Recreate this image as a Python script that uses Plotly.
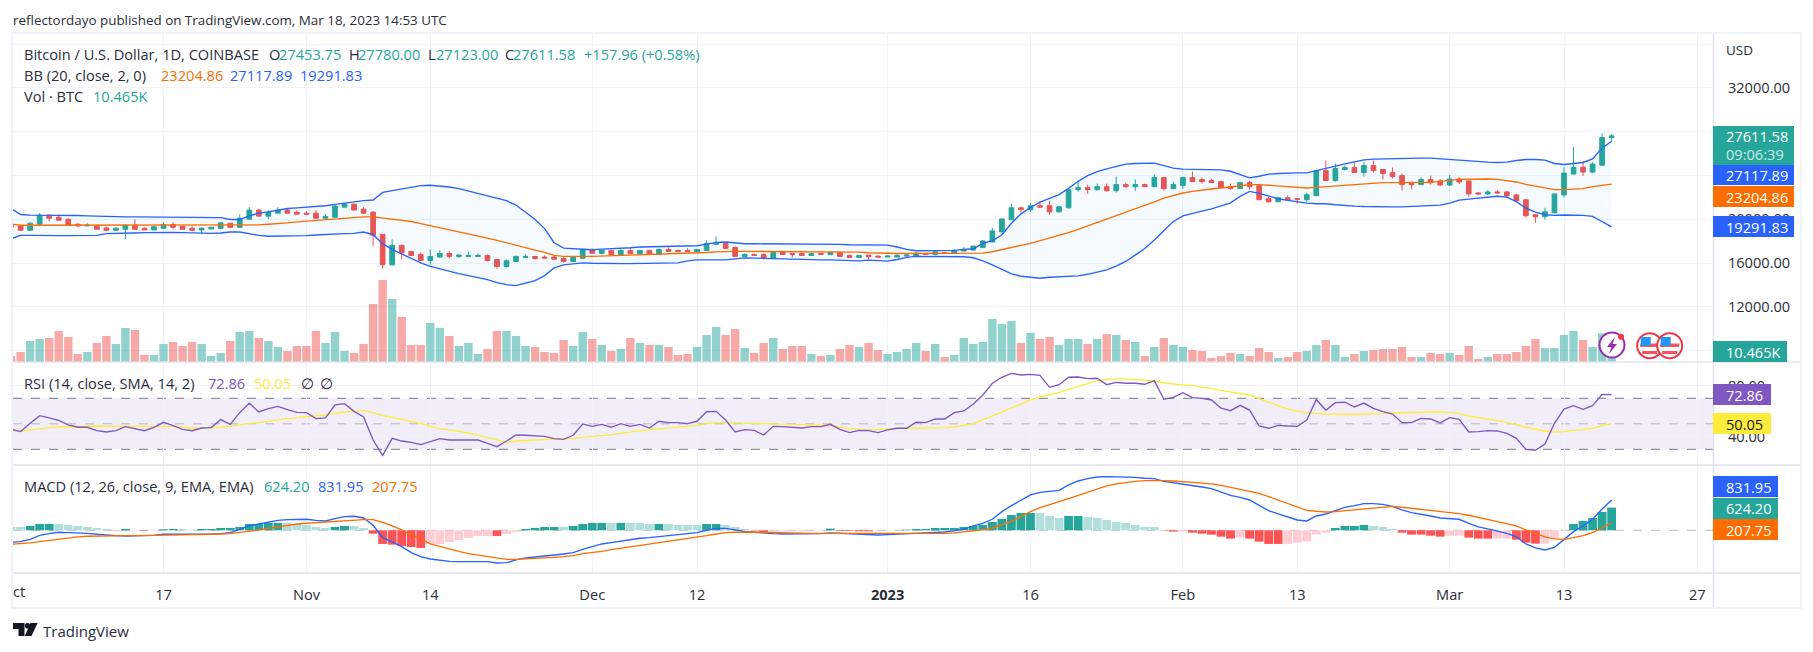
import pandas as pd
import plotly.graph_objects as go

W, H = 1813, 652

FIRST_DAY, LAST_DAY = "2022-10-01", "2023-03-18"

OPEN = [
 19430,19390,18990,19540,20370,20180,20000,19540,19390,19420,19200,18990,19080,19450,19170,19020,19170,19510,19350,19170,19020,19110,19170,19630,19260,20000,20830,20280,20550,20830,20640,
 20550,20550,20090,20180,21100,21380,20920,20640,18620,15830,17610,17060,16780,16230,16540,16870,16600,16600,16600,16690,16320,15680,16140,16510,16600,16540,16540,16420,16140,16440,
 17180,16870,17150,16780,17150,16870,17150,16780,17240,17150,17150,17060,17150,17700,17790,17420,16600,16780,16780,16420,16960,16870,16870,16690,16870,16780,16960,16690,16510,16720,16630,
 16540,16540,16630,16630,16870,16780,16960,16870,17090,17180,17430,17920,18840,19940,21040,20860,21230,21230,20670,21040,22700,22880,22700,22970,22600,23160,22970,23160,22970,23800,22790,
 23070,23800,23620,23530,23430,22970,22790,23340,23070,21870,21590,21960,21870,21780,22150,24440,23530,24540,24720,24260,24900,24540,24260,23980,23250,23160,23620,23490,
 23120,23670,23490,22400,22310,22490,22490,22220,21770,20410,20230,20590,22220,24120,24750,24300,24930,27453.75]
HIGH = [
 19480,19450,19720,20550,20430,20430,20090,19630,19630,19510,19300,19260,19540,20000,19260,19450,19720,19720,19350,19350,19260,19260,19720,19630,20460,21100,20920,20830,21100,20980,20800,
 20730,20830,20460,21290,21470,21380,21100,20730,18620,18160,17700,17060,16960,17240,17150,17060,16780,17060,16870,16780,16320,16320,16690,16780,16600,16690,16690,16510,16600,17300,
 17330,17180,17150,17240,17420,17150,17150,17330,17420,17240,17330,17240,18070,18440,17850,17510,16870,16870,16870,17060,16960,16870,16960,16870,16870,16960,16960,16780,16690,16720,16690,
 16690,16810,16810,17000,16870,17030,16960,17270,17450,17550,18100,19200,20030,21410,21100,21500,21660,21690,21230,22790,23430,23160,23250,23250,23890,23340,23620,23250,24080,23890,23430,
 23890,24350,23800,23710,23530,23250,23430,23530,23070,22050,21960,22150,21930,22420,24470,25360,25090,24900,25270,25180,25360,24540,24720,24170,23250,23800,23980,23670,
 24030,23850,23490,22490,22670,22670,22580,22310,21860,20410,21040,22310,24750,26570,25300,25210,27830,27780]
LOW = [
 19280,18970,18970,19540,19820,19910,19450,19300,19390,19080,18900,18990,18190,19080,19020,19020,19170,19080,19080,18900,18680,19110,19110,19170,19260,20000,20280,20000,20550,20550,20460,
 20370,20090,20090,20180,21100,20830,20460,17520,15490,15770,16320,16690,16230,15860,16540,16440,16440,16600,16600,16140,15490,15590,16140,16510,16320,16450,16350,16040,16140,16440,
 16900,16780,16780,16780,16870,16870,16690,16780,17060,17060,17060,16870,17150,17700,17330,16600,16600,16690,16320,16420,16780,16510,16690,16690,16780,16780,16600,16510,16510,16350,16540,
 16540,16540,16630,16630,16780,16690,16870,16870,17090,17180,17360,17920,18840,19940,20550,20670,21040,20400,20670,20980,22510,22330,22600,22510,22420,22880,22600,22970,22970,22600,22790,
 22790,23430,23250,23340,22880,22700,22790,22700,21780,21500,21590,21680,21410,21590,22150,23530,23430,24440,24260,23890,24260,23620,23710,22600,22700,23160,23160,23030,
 23030,23210,22040,22220,22220,22310,21950,21680,20140,19680,19950,20500,21950,24120,23940,24210,24930,27123]
CLOSE = [
 19310,18990,19630,20370,20090,19910,19450,19390,19450,19080,18990,19170,19450,19080,19020,19300,19510,19260,19080,18990,19170,19260,19660,19260,20090,20830,20280,20640,20830,20550,20460,
 20460,20090,20250,21200,21380,20830,20550,18530,15860,17610,16930,16690,16230,16600,16870,16600,16720,16690,16690,16230,15680,16200,16600,16600,16420,16450,16350,16140,16510,17210,
 16900,17180,16780,17150,16870,17150,16780,17240,17060,17060,17060,17240,17790,17790,17330,16600,16780,16690,16420,16960,16780,16780,16690,16870,16780,16960,16600,16510,16690,16570,16540,
 16630,16690,16720,16900,16780,17030,16870,17120,17240,17550,18010,18930,20030,21040,20890,21230,21100,20670,21130,22700,22880,22700,22970,22600,23160,22970,23160,22970,23800,22790,23160,
 23800,23430,23430,23340,22880,22790,23340,22970,21780,21590,21960,21780,21810,22240,24440,23530,24630,24720,24260,24900,24440,24170,23890,23160,23160,23620,23340,23120,
 23670,23400,22310,22310,22490,22400,22130,21680,20320,20230,20680,22310,24210,24750,24300,25030,27470,27611.58]

BB_UPPER = [
 20980,20430,20370,20370,20400,20400,20370,20340,20310,20280,20210,20210,20210,20210,20210,20210,20210,20210,20210,20210,20210,20210,20150,19970,19970,20310,20550,20670,20860,20980,21040,
 21100,21160,21230,21350,21470,21620,21690,21750,22450,22610,22760,22910,23070,23100,23030,22940,22790,22570,22360,22150,21930,21690,21290,20670,19970,19140,17850,17360,17330,17240,
 17210,17270,17300,17330,17390,17460,17490,17520,17550,17550,17550,17580,17730,17880,17920,17850,17760,17760,17760,17760,17760,17760,17760,17760,17760,17760,17700,17670,17670,17700,17670,
 17640,17460,17240,17120,17120,17120,17150,17150,17240,17300,17790,18040,18560,19630,20490,21070,21560,21870,22240,22820,23460,23980,24350,24600,24840,25030,25090,25120,25120,24900,24660,
 24570,24570,24570,24570,24510,24380,24050,23770,23920,24110,24170,24230,24230,24230,24410,24600,24840,25060,25240,25420,25490,25520,25520,25550,25550,25580,25580,25510,
 25480,25420,25330,25270,25210,25180,25210,25360,25450,25450,25390,25090,25000,25090,25180,25510,26510,27117.89]
BB_BASIS = [
 19540,19450,19450,19450,19450,19450,19450,19450,19450,19450,19450,19450,19450,19450,19450,19450,19450,19450,19450,19450,19450,19450,19450,19450,19450,19450,19480,19540,19570,19660,19750,
 19820,19850,19970,20030,20090,20150,20210,20210,20120,20030,19910,19790,19600,19420,19230,19050,18870,18680,18500,18280,18070,17830,17610,17390,17180,16970,16690,16600,16570,16600,
 16600,16630,16630,16660,16660,16690,16720,16750,16810,16840,16870,16900,16960,17020,17060,17060,17060,17060,17060,17060,17060,17060,17060,17060,17060,17060,17060,17030,17000,16935,16900,
 16870,16870,16870,16870,16870,16870,16870,16870,16840,16840,16900,17030,17240,17430,17610,17790,18040,18250,18470,18770,19080,19390,19690,20000,20340,20640,20950,21290,21590,21930,22180,
 22390,22540,22670,22760,22850,22970,23100,23160,23160,23100,23030,22970,22910,22850,22910,22970,23070,23130,23190,23280,23310,23340,23340,23370,23370,23370,23370,23430,
 23550,23640,23670,23670,23670,23640,23520,23400,23180,23000,22820,22700,22700,22730,22790,22970,23120,23204.86]
BB_LOWER = [
 18220,18530,18530,18500,18500,18500,18500,18500,18500,18530,18680,18680,18710,18740,18770,18800,18835,18800,18770,18740,18710,18710,18740,18830,18830,18650,18530,18440,18440,18440,18470,
 18500,18560,18620,18650,18680,18710,18830,18590,17760,17240,16840,16380,16010,15700,15460,15250,15030,14850,14670,14480,14210,14020,13930,14150,14390,14850,15550,15830,15920,16010,
 15980,15950,15950,15950,15950,15950,15950,15950,15950,16010,16200,16290,16290,16260,16290,16380,16470,16440,16410,16410,16380,16380,16350,16320,16290,16290,16260,16230,16200,16260,16200,
 16170,16320,16510,16600,16600,16600,16600,16600,16570,16480,16200,15830,15430,15000,14790,14670,14610,14700,14760,14790,14820,14970,15160,15370,15710,16140,16720,17330,18100,18960,19790,
 20310,20550,20740,20950,21230,21500,22080,22540,22360,22080,21870,21720,21560,21470,21410,21410,21320,21230,21200,21160,21130,21130,21130,21130,21160,21200,21230,21280,
 21460,21740,21830,21920,22070,22100,22010,21610,21010,20650,20410,20350,20380,20380,20350,20260,19800,19291.83]

VOLUME_K = [
 6.3,10.5,22,24.2,25.2,32.6,26.3,8.4,10.5,20,27.3,18.9,35.7,33.6,7.4,7.4,18.9,21,16.8,21,18.9,6.3,9.5,22,31.5,32.6,25.2,22,15.8,11.6,16.8,
 16.8,32.6,20,31.5,11.6,9.5,18.9,60.9,86.1,66.2,47.3,17.9,17.9,41,35.7,27.3,16.8,20,8.4,13.7,32.6,32.6,27.3,16.8,15.8,10.5,9.5,23.1,16.8,31.5,
 24.2,17.9,11.6,13.7,25.2,20,17.9,17.9,15.8,7.4,8.4,15.8,28.4,36.8,28.4,34.7,14.7,9.5,20,25.2,13.7,16.8,16.8,8.4,6.3,7.4,13.7,17.9,15.8,20,12.6,
 8.4,10.5,13.7,20,11.6,18.9,5.3,7.4,25.2,18.9,21,45.2,39.9,43.1,20,30.5,24.2,26.3,17.9,24.2,24.2,18.9,24.2,29.4,28.4,23.1,21,6.3,15.8,25.2,17.9,
 15.8,12.6,11.6,4.2,6.3,9.5,8.4,6.3,14.7,10.5,4.2,5.3,10.5,11.6,17.9,23.1,17.9,5.3,8.4,11.6,12.6,13.7,13.7,15.8,5.3,5.3,9.5,8.4,
 9.5,7.4,16.8,3.2,5.3,8.4,8.4,10.5,16.8,24.2,14.7,14.7,28.4,32.6,23.1,15.8,30.1,10.465]

RSI = [
 45.7,43.9,50.4,56.4,54.6,52.7,49.1,47.3,47.3,44.6,43.6,44.6,47.8,46.2,44.6,47.3,51.2,48.6,45.7,44.6,46.7,47,53.3,49.6,58.8,66.1,59.3,61.9,63.7,61.1,59,
 58.8,54.1,54.6,64.8,65.8,59.8,55.4,37.3,25.3,38.6,36.5,35.5,33.7,36,38.4,37.3,37.3,37.6,37.3,34.7,32.1,36.5,41.2,41,40.5,40.2,38.4,37.8,41,49.9,
 48,49.6,47.3,50.1,48,49.6,46.7,52,50.9,50.9,50.1,52,59.5,59.8,53,43.6,45.4,44.9,41.2,48,47.8,47.5,46.7,47.8,47.8,49.6,45.7,43.1,44.9,44.6,43.1,
 45.2,46.5,46.5,51.2,50.9,53.8,53.8,58.8,60.1,65.6,72.6,81.8,86.5,89.6,88.3,88.8,88,78.6,80.7,86.5,86.7,85.4,85.7,80.7,82.5,81.8,81.8,81,83.9,69.2,70.8,
 74.4,70.5,70,68.7,62.2,60.3,64.5,60.8,48.3,46.5,48.8,48.3,48,53,69,60.6,66.6,66.9,63.2,66.3,62.2,59.5,57.7,50.9,50.9,54.3,53.8,50.7,
 54.8,53.5,43.6,43.9,44.6,44.4,42.5,38.6,30,29.2,34.2,50.4,61.6,64.2,61.4,64.2,73.1,72.86]
RSI_MA = [
 44.4,44.1,45.2,46.2,47,47.5,47.8,48,48.3,48.3,48,48,48,48,48,48,48.3,48,47.3,46.5,46.5,46.7,47.3,48,49.1,50.4,50.9,52,53.3,54.1,54.8,
 55.4,56.1,56.9,58.2,59.3,59.8,60.3,58.8,56.4,55.1,53.5,52,50.4,48,46.2,45.2,44.1,42.8,41.2,39.4,37.3,35.5,36.5,37.1,37.3,37.6,37.8,38.1,38.6,39.4,
 39.9,40.5,41.5,42.5,43.6,44.6,45.2,45.9,46.5,47,47.8,48.8,50.1,50.9,50.9,50.9,50.7,50.4,50.1,49.9,49.6,49.3,49.1,49.1,48.8,48.6,47.3,46.2,45.7,45.4,45.4,
 45.9,46.5,46.5,46.5,46.5,46.7,47,47.5,48.6,50.1,53,56.1,59.3,62.7,65.8,68.7,71.3,72.6,74.7,77.1,79.4,81.8,83.9,84.6,85.2,85.2,84.6,84.1,83.6,82,81,
 80.5,79.9,78.9,77.6,76.3,75,73.9,72.6,69.7,66.9,64.2,61.6,59.8,58.8,58.2,57.7,57.5,57.5,57.5,57.7,57.7,58,58.5,58.8,59,59.3,59.5,59.5,
 58.8,58.2,56.1,55.1,53.8,52.5,51.2,49.6,47.3,45.7,44.4,43.6,43.9,44.9,45.4,46.5,48.6,50.05]

MACD = [
 -330,-312,-248,-138,-92,-55,-64,-64,-83,-110,-138,-147,-156,-156,-156,-138,-110,-110,-119,-128,-119,-110,-92,-64,28,128,174,229,275,293,303,
 303,275,257,321,376,385,339,138,-202,-321,-449,-614,-724,-789,-825,-853,-862,-862,-853,-862,-899,-889,-816,-761,-734,-697,-679,-651,-614,-523,
 -449,-376,-339,-293,-248,-220,-202,-174,-147,-119,-92,-64,0,55,55,9,-28,-55,-83,-92,-101,-101,-101,-101,-92,-73,-83,-101,-110,-119,-128,
 -119,-110,-101,-83,-73,-64,-46,-18,28,119,193,303,514,679,834,972,1045,1073,1100,1247,1357,1421,1467,1476,1476,1476,1458,1431,1421,1348,1311,
 1284,1238,1192,1146,1055,963,908,834,688,541,449,367,284,257,394,449,550,633,679,734,734,715,660,559,486,449,394,339,
 330,303,193,92,37,-18,-83,-174,-376,-486,-541,-468,-248,-37,119,303,587,831.95]
SIGNAL = [
 -385,-376,-348,-312,-275,-238,-211,-183,-165,-156,-147,-147,-147,-147,-147,-147,-138,-128,-128,-119,-119,-110,-101,-92,-64,-28,9,55,101,138,174,
 193,211,220,238,266,284,293,293,220,119,9,-128,-238,-376,-449,-514,-578,-642,-679,-724,-770,-798,-798,-789,-779,-761,-743,-724,-697,-642,
 -614,-578,-532,-495,-459,-422,-385,-348,-312,-275,-238,-193,-147,-101,-64,-55,-46,-46,-55,-64,-73,-73,-83,-83,-83,-83,-83,-83,-83,-92,-101,
 -101,-101,-101,-101,-92,-92,-83,-73,-55,-18,18,64,156,248,376,514,624,715,789,871,963,1055,1137,1220,1275,1320,1348,1366,1376,1366,1357,
 1339,1320,1302,1275,1238,1183,1146,1091,1018,926,834,743,633,550,523,504,514,541,569,596,624,651,660,633,605,578,550,514,
 486,459,413,348,293,238,183,119,9,-92,-183,-238,-248,-202,-147,-64,73,207.75]
HISTOGRAM = [
 92,92,119,174,174,174,147,119,92,64,37,-9,37,9,-9,9,28,37,37,9,37,37,64,64,92,174,174,202,202,202,174,
 147,92,64,92,119,119,64,-92,-376,-394,-431,-459,-486,-376,-376,-321,-266,-211,-156,-156,-156,-101,-46,37,64,92,92,92,119,174,
 202,202,202,202,202,202,174,174,174,147,147,147,174,174,147,92,37,9,-64,-28,-28,-28,-28,-9,9,46,-18,-18,-28,-28,-9,
 -9,9,18,37,37,64,64,64,92,119,147,229,312,422,477,477,477,394,339,394,394,367,339,284,229,202,147,92,92,-9,-37,
 -37,-64,-92,-119,-174,-229,-202,-229,-312,-376,-376,-376,-339,-312,-119,-64,64,119,119,147,119,92,37,-64,-119,-119,-147,-174,
 -147,-147,-202,-229,-229,-229,-229,-257,-339,-367,-367,-229,-9,174,257,339,504,624.2]
# shade: u = full colour, w = pale colour
HISTOGRAM_SHADE = (
 "wwuuuwwwwwwuuwuwuuwwuuuuuuuuuww"
 "wwwuuwwuuuuuuwwwwwwwuwwuuuuwuu"
 "uuwuwwwuwwwwuuwwwwuwwwwwwuuuuuw"
 "wwuuuuuuuuuuuuuuwwwuuwwwwwwwwuu"
 "wuuuuuwuuuuwwwwwuuuuwwwuuuuu"
 "wwuuuwwuuuwwwuuuuu")

TICK_DATES = ["2022-10-17","2022-11-01","2022-11-14","2022-12-01","2022-12-12","2023-01-01","2023-01-16",
              "2023-02-01","2023-02-13","2023-03-01","2023-03-13","2023-03-27"]
TICK_LABELS = ["17","Nov","14","Dec","12","<b>2023</b>","16","Feb","13","Mar","13","27"]
PRICE_TICKS = [8000,12000,16000,20000,24000,28000,32000,36000]
PRICE_TICK_LABELS = ["","12000.00","16000.00","20000.00","","","32000.00",""]
RSI_TICKS = [40,80]
RSI_TICK_LABELS = ["40.00","80.00"]

dates = pd.date_range(FIRST_DAY, LAST_DAY).strftime("%Y-%m-%d").tolist()
n = len(dates)
for name, arr in dict(OPEN=OPEN,HIGH=HIGH,LOW=LOW,CLOSE=CLOSE,BB_UPPER=BB_UPPER,BB_BASIS=BB_BASIS,BB_LOWER=BB_LOWER,
                      VOLUME_K=VOLUME_K,RSI=RSI,RSI_MA=RSI_MA,MACD=MACD,SIGNAL=SIGNAL,HISTOGRAM=HISTOGRAM,
                      HISTOGRAM_SHADE=HISTOGRAM_SHADE).items():
    assert len(arr) == n, (name, len(arr), n)

UP, DOWN = "#26a69a", "#ef5350"
BLUE, ORANGE, PURPLE, YELLOW = "#2962ff", "#ff6d00", "#7e57c2", "#ffeb3b"
GRID = "#f0f3fa"
EDGE = "#e0e3eb"
INK = "#2a2e39"
FONT = "Open Sans"
SIZE = 14.6
LW = 1.35

def px(x): return x / W
def py(y): return 1 - y / H
def dom(a, b): return [py(b), py(a)]

DAY = 86400000
vol_colors = ["rgba(38,166,154,0.5)" if c >= o else "rgba(239,83,80,0.5)" for o, c in zip(OPEN, CLOSE)]
def hist_color(v, m):
    if v >= 0:
        return "#26a69a" if m == "u" else "#b2dfdb"
    return "#ff5252" if m == "u" else "#ffcdd2"
hist_colors = [hist_color(v, m) for v, m in zip(HISTOGRAM, HISTOGRAM_SHADE)]

fig = go.Figure()
fig.add_bar(x=dates, y=VOLUME_K, marker=dict(color=vol_colors, line_width=0), width=0.88*DAY, xaxis="x", yaxis="y", hoverinfo="skip")
fig.add_scatter(x=dates, y=BB_UPPER, mode="lines", line=dict(color=BLUE, width=LW), xaxis="x", yaxis="y2", hoverinfo="skip")
fig.add_scatter(x=dates, y=BB_LOWER, mode="lines", line=dict(color=BLUE, width=LW), fill="tonexty",
                fillcolor="rgba(33,150,243,0.05)", xaxis="x", yaxis="y2", hoverinfo="skip")
fig.add_scatter(x=dates, y=BB_BASIS, mode="lines", line=dict(color=ORANGE, width=LW), xaxis="x", yaxis="y2", hoverinfo="skip")
fig.add_candlestick(x=dates, open=OPEN, high=HIGH, low=LOW, close=CLOSE, xaxis="x", yaxis="y2", hoverinfo="skip",
                    increasing=dict(line=dict(color=UP, width=1), fillcolor=UP),
                    decreasing=dict(line=dict(color=DOWN, width=1), fillcolor=DOWN))
fig.add_scatter(x=dates, y=RSI_MA, mode="lines", line=dict(color=YELLOW, width=LW), xaxis="x2", yaxis="y3", hoverinfo="skip")
fig.add_scatter(x=dates, y=RSI, mode="lines", line=dict(color=PURPLE, width=LW), xaxis="x2", yaxis="y3", hoverinfo="skip")
fig.add_bar(x=dates, y=HISTOGRAM, marker=dict(color=hist_colors, line_width=0), width=0.92*DAY, xaxis="x3", yaxis="y4", hoverinfo="skip")
fig.add_scatter(x=dates, y=MACD, mode="lines", line=dict(color=BLUE, width=LW), xaxis="x3", yaxis="y4", hoverinfo="skip")
fig.add_scatter(x=dates, y=SIGNAL, mode="lines", line=dict(color=ORANGE, width=LW), xaxis="x3", yaxis="y4", hoverinfo="skip")

X_RANGE = ["2022-10-01 04:48", "2023-03-28 15:22"]
xcommon = dict(type="date", tickmode="array", tickvals=TICK_DATES, showgrid=True, gridcolor=GRID, gridwidth=1,
               zeroline=False, showline=False, domain=[px(13), px(1713)], range=X_RANGE)
fig.update_layout(
    width=W, height=H, autosize=False, margin=dict(l=0, r=0, t=0, b=0), paper_bgcolor="#ffffff", plot_bgcolor="rgba(0,0,0,0)",
    showlegend=False, barmode="overlay", font=dict(family=FONT, size=SIZE, color=INK), hovermode=False,
    xaxis=dict(xcommon, anchor="y", showticklabels=False, ticks="", rangeslider=dict(visible=False)),
    xaxis2=dict(xcommon, anchor="y3", showticklabels=False, ticks="", matches="x"),
    xaxis3=dict(xcommon, anchor="y4", matches="x", ticktext=TICK_LABELS, ticks="outside", ticklen=8, tickcolor="rgba(0,0,0,0)",
                tickfont=dict(family=FONT, size=SIZE, color=INK)),
    yaxis=dict(domain=dom(34, 362), range=[0, 344.4], visible=False, fixedrange=True),
    yaxis2=dict(domain=dom(34, 362), overlaying="y", side="right", anchor="x", range=[6960, 36913], tickmode="array",
                tickvals=PRICE_TICKS, ticktext=PRICE_TICK_LABELS, showgrid=True, gridcolor=GRID, zeroline=False,
                ticks="outside", ticklen=11, tickcolor="rgba(0,0,0,0)", tickfont=dict(family=FONT, size=SIZE, color=INK)),
    yaxis3=dict(domain=dom(363, 465), side="right", anchor="x2", range=[17.7, 97.7], tickmode="array",
                tickvals=RSI_TICKS, ticktext=RSI_TICK_LABELS, showgrid=True, gridcolor=GRID, zeroline=False,
                ticks="outside", ticklen=11, tickcolor="rgba(0,0,0,0)", tickfont=dict(family=FONT, size=SIZE, color=INK)),
    yaxis4=dict(domain=dom(466, 573), side="right", anchor="x3", range=[-1175, 1769], showticklabels=False, showgrid=False, zeroline=False),
)

shapes, notes = [], []
def rect(x0, y0, x1, y1, fill, line=None, lw=0, layer="above"):
    shapes.append(dict(type="rect", xref="paper", yref="paper", x0=px(x0), x1=px(x1), y0=py(y0), y1=py(y1),
                       fillcolor=fill, line=dict(width=lw, color=line or fill), layer=layer))
def hline(x0, x1, y, color, w=1):
    shapes.append(dict(type="line", xref="paper", yref="paper", x0=px(x0), x1=px(x1), y0=py(y), y1=py(y), line=dict(color=color, width=w), layer="above"))
def vline(x, y0, y1, color, w=1):
    shapes.append(dict(type="line", xref="paper", yref="paper", x0=px(x), x1=px(x), y0=py(y0), y1=py(y1), line=dict(color=color, width=w), layer="above"))
def circle(cx, cy, r, fill, line=None, lw=0):
    shapes.append(dict(type="circle", xref="paper", yref="paper", x0=px(cx-r), x1=px(cx+r), y0=py(cy+r), y1=py(cy-r),
                       fillcolor=fill, line=dict(width=lw, color=line or fill), layer="above"))
def poly(pts, fill):
    d = "M" + " L".join(f"{px(a):.5f},{py(b):.5f}" for a, b in pts) + " Z"
    shapes.append(dict(type="path", xref="paper", yref="paper", path=d, fillcolor=fill, line=dict(width=0), layer="above"))
def text(x, y, s, color=INK, size=SIZE, anchor="left", fam=FONT):
    notes.append(dict(xref="paper", yref="paper", x=px(x), y=py(y), text=s, showarrow=False, xanchor=anchor, yanchor="middle",
                      font=dict(color=color, size=size, family=fam), borderpad=0, borderwidth=0))

# RSI band and guides, in RSI units
shapes.append(dict(type="rect", xref="x2 domain", yref="y3", x0=0, x1=1, y0=30, y1=70, fillcolor="rgba(126,87,194,0.1)", line=dict(width=0), layer="below"))
for lvl, col in ((70, "#787b86"), (50, "rgba(120,123,134,0.5)"), (30, "#787b86")):
    shapes.append(dict(type="line", xref="x2 domain", yref="y3", x0=0, x1=1, y0=lvl, y1=lvl, line=dict(color=col, width=1, dash="dash"), layer="below"))
shapes.append(dict(type="line", xref="x3 domain", yref="y4", x0=0, x1=1, y0=0, y1=0, line=dict(color="rgba(120,123,134,0.5)", width=1, dash="dash"), layer="below"))

# frame
rect(12, 33, 1801, 608, "rgba(0,0,0,0)", GRID, 2)
hline(13, 1800, 362, EDGE, 1.5)
hline(13, 1800, 465, EDGE, 1.5)
hline(13, 1800, 573, EDGE, 1.5)
vline(1713.5, 34, 607, EDGE, 1.5)

# price scale tags
TAG = "#ffffff"
rect(1713, 126, 1794, 165, UP)
text(1726, 136, "27611.58", TAG)
text(1726, 154, "09:06:39", "#c8e9e5")
rect(1713, 165, 1794, 185, BLUE); text(1726, 175, "27117.89", TAG)
rect(1713, 186, 1794, 207, ORANGE); text(1726, 197, "23204.86", TAG)
rect(1713, 216, 1794, 237, BLUE); text(1726, 227, "19291.83", TAG)
rect(1713, 341, 1787, 362, UP); text(1726, 351.5, "10.465K", TAG)
rect(1713, 384, 1771, 405, PURPLE); text(1726, 395, "72.86", TAG)
rect(1713, 413, 1771, 434, YELLOW); text(1726, 423.5, "50.05", "#131722")
rect(1713, 476, 1778, 497, BLUE); text(1726, 487, "831.95", TAG)
rect(1713, 498, 1778, 519, UP); text(1726, 508, "624.20", TAG)
rect(1713, 519, 1778, 540, ORANGE); text(1726, 530, "207.75", TAG)
text(1726, 50, "USD", INK, 13.5)

# header and legends
text(13, 20, "reflectordayo published on TradingView.com, Mar 18, 2023 14:53 UTC", INK, 13.4)
text(23.5, 54, "Bitcoin / U.S. Dollar, 1D, COINBASE")
for xl, lab, xv, val in ((269, "O", 279, "27453.75"), (349, "H", 358, "27780.00"), (428, "L", 436, "27123.00"), (505, "C", 513, "27611.58")):
    text(xl, 54, lab); text(xv, 54, val, UP)
text(584, 54, "+157.96 (+0.58%)", UP)
text(23.5, 75, "BB (20, close, 2, 0)")
text(160.5, 75, "23204.86", ORANGE); text(230, 75, "27117.89", BLUE); text(300, 75, "19291.83", BLUE)
text(23.5, 96, "Vol · BTC"); text(93, 96, "10.465K", UP)
text(23.5, 383, "RSI (14, close, SMA, 14, 2)")
text(208, 383, "72.86", PURPLE); text(254, 383, "50.05", YELLOW); text(300.5, 383, "∅"); text(319.5, 383, "∅")
text(23.5, 486, "MACD (12, 26, close, 9, EMA, EMA)")
text(264, 486, "624.20", UP); text(318, 486, "831.95", BLUE); text(372, 486, "207.75", ORANGE)
text(13, 591, "ct")

# TradingView mark
poly([(13,623),(24.5,623),(24.5,636),(18.5,636),(18.5,629),(13,629)], "#131722")
circle(27.6, 625.8, 2.8, "#131722")
poly([(30.5,623),(37.6,623),(31.5,636),(24.8,636)], "#131722")
text(43, 630.5, "TradingView", "#2a2e39", 15)

# lightning badge
circle(1612, 345, 12.5, "#ffffff", "#9c27b0", 2)
poly([(1615,337),(1607,347),(1611.5,347),(1609,354),(1617,344),(1612.5,344)], "#9c27b0")
circle(1621, 336.7, 3, "#f23645")
# flag badges
for cx in (1649.7, 1669.7):
    circle(cx, 345.7, 12.5, "#ffffff", "#f23645", 2)
    rect(cx-9.5, 343.5, cx+9.5, 347, "#f7525f")
    rect(cx-7.5, 351, cx+7.5, 354, "#f7525f")
    rect(cx-9, 337, cx+1, 346, "#2196f3")
fig.update_layout(shapes=shapes, annotations=notes)

fig.write_html("out.html", config={"displayModeBar": False, "staticPlot": True},
               post_script="document.body.style.margin='0';document.documentElement.style.overflow='hidden';")
